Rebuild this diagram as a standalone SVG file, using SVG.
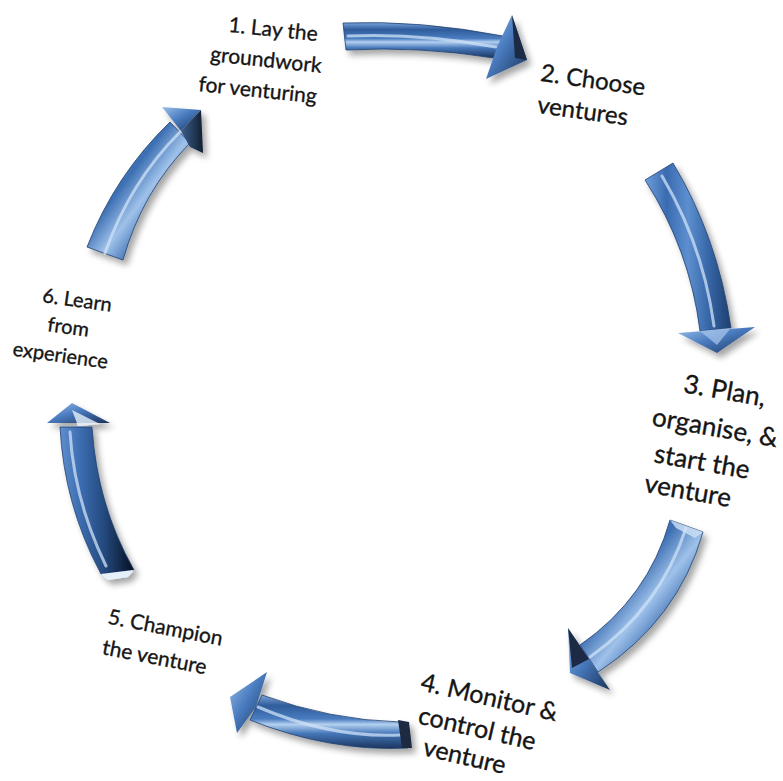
<svg xmlns="http://www.w3.org/2000/svg" width="783" height="781" viewBox="0 0 783 781">
<defs>
<filter id="sh" x="-30%" y="-30%" width="160%" height="160%"><feDropShadow dx="4" dy="5" stdDeviation="3" flood-color="#000" flood-opacity="0.35"/></filter>
<linearGradient id="gH" x1="0" y1="0" x2="0" y2="1"><stop offset="0" stop-color="#7aa6dc"/><stop offset="0.2" stop-color="#2f5c9c"/><stop offset="0.45" stop-color="#4a7dc0"/><stop offset="0.55" stop-color="#b4d0ef"/><stop offset="0.72" stop-color="#4577b9"/><stop offset="1" stop-color="#1b355e"/></linearGradient>
<linearGradient id="gV" x1="0" y1="0" x2="1" y2="0"><stop offset="0" stop-color="#6f9fda"/><stop offset="0.25" stop-color="#3a6bb0"/><stop offset="0.5" stop-color="#5d8fcf"/><stop offset="0.75" stop-color="#3565a6"/><stop offset="1" stop-color="#1f3f6e"/></linearGradient>
<linearGradient id="gV5" x1="0" y1="0" x2="1" y2="0"><stop offset="0" stop-color="#5f8fcf"/><stop offset="0.3" stop-color="#3a6aad"/><stop offset="0.6" stop-color="#24497e"/><stop offset="1" stop-color="#05101f"/></linearGradient>
<linearGradient id="gD" x1="0" y1="0" x2="1" y2="1"><stop offset="0" stop-color="#5f92d4"/><stop offset="0.4" stop-color="#3d6fb3"/><stop offset="0.55" stop-color="#9fc2ea"/><stop offset="0.7" stop-color="#3f70b2"/><stop offset="1" stop-color="#23487c"/></linearGradient>
<linearGradient id="gHead" x1="0" y1="0" x2="1" y2="1"><stop offset="0" stop-color="#9cc0ea"/><stop offset="0.45" stop-color="#4a7cc0"/><stop offset="1" stop-color="#1a3258"/></linearGradient>
<linearGradient id="gDark" x1="0" y1="0" x2="1" y2="0"><stop offset="0" stop-color="#3c5e8c"/><stop offset="1" stop-color="#121e30"/></linearGradient>
</defs>
<style>
.lbl{font-family:Lato,"Liberation Sans",sans-serif;fill:#151515;stroke:#151515;stroke-width:0.35;text-anchor:middle}
.hl{fill:none;stroke:#cfe2f7;stroke-width:3;stroke-opacity:0.75;stroke-linecap:round}
.edge{stroke:#20406e;stroke-width:0.8}
</style>

<g id="connectors">
  <g id="arrow1" filter="url(#sh)">
    <path class="edge" fill="url(#gH)" d="M343,23 Q420,20 503,36 L494,58 Q420,46 346,50 Z"/>
    <path class="hl" d="M348,36 Q420,33 496,47"/>
    <path fill="url(#gHead)" d="M512,15 L527,60 L486,79 L497,47 Z"/>
    <path fill="#1c2c44" d="M512,15 L527,60 L515,58 Z"/>
  </g>
  <g id="arrow2" filter="url(#sh)">
    <path class="edge" fill="url(#gV)" d="M645,180 L673,163 Q718,238 731,328 L700,331 Q690,250 645,180 Z"/>
    <path class="hl" d="M662,176 Q703,245 714,326" stroke-opacity="0.4"/>
    <path fill="url(#gHead)" d="M678,333 L755,327 L717,353 Z"/>
    <path fill="#a9c8ec" d="M700,331 L731,328 L717,345 Z" opacity="0.7"/>
  </g>
  <g id="arrow3" filter="url(#sh)">
    <path class="edge" fill="url(#gD)" d="M670,520 L703,532 Q678,620 598,672 L580,645 Q648,598 670,520 Z"/>
    <path class="hl" d="M686,528 Q660,608 590,657"/>
    <path fill="#cfe2f7" d="M670,520 L703,532 L695,538 L676,528 Z" opacity="0.8"/>
    <path fill="url(#gHead)" d="M568,628 L589,659 L610,690 L570,673 Z"/>
    <path fill="#1c2c44" d="M568,628 L589,659 L572,668 Z"/>
  </g>
  <g id="arrow4" filter="url(#sh)">
    <path class="edge" fill="url(#gH)" d="M400,722 Q330,720 262,695 L250,720 Q330,752 408,748 Z"/>
    <path class="hl" d="M400,735 Q330,738 258,707"/>
    <path fill="#1a2a42" d="M398,720 L409,722 L412,748 L402,748 Z"/>
    <path fill="url(#gHead)" d="M267,672 L256,707 L237,733 L230,697 Z"/>
  </g>
  <g id="arrow5" filter="url(#sh)">
    <path class="edge" fill="url(#gV5)" d="M60,427 L92,427 Q97,505 134,570 L101,574 Q64,505 60,427 Z"/>
    <path class="hl" d="M70,432 Q74,500 106,566" stroke-opacity="0.5"/>
    <path fill="#e6f0fb" d="M101,574 L134,570 L128,577 L108,580 Z"/>
    <path fill="url(#gHead)" d="M72,403 L110,423 L47,423 Z"/>
    <path fill="#e6f0fb" d="M72,410 L100,424 L78,426 Z" opacity="0.8"/>
  </g>
  <g id="arrow6" filter="url(#sh)">
    <path class="edge" fill="url(#gD)" d="M87,247 Q115,175 170,122 L190,143 Q142,192 123,260 Z"/>
    <path class="hl" d="M105,253 Q130,182 180,132"/>
    <path fill="url(#gHead)" d="M162,107 L201,110 L181,131 Z"/>
    <path fill="url(#gDark)" d="M181,131 L201,110 L203,153 L190,147 Z"/>
  </g>
</g>

<g id="node1"><text class="lbl" font-size="21" transform="rotate(6 266 60)"><tspan x="270" y="36">1. Lay the</tspan><tspan x="266" y="67">groundwork</tspan><tspan x="261" y="98">for venturing</tspan></text></g>
<g id="node2"><text class="lbl" font-size="24" transform="rotate(8 590 95)"><tspan x="591" y="88">2. Choose</tspan><tspan x="585" y="120">ventures</tspan></text></g>
<g id="node3"><text class="lbl" font-size="26" transform="rotate(10 712 440)"><tspan x="716" y="398">3. Plan,</tspan><tspan x="713" y="436">organise, &amp;</tspan><tspan x="706" y="472">start the</tspan><tspan x="697" y="503">venture</tspan></text></g>
<g id="node4"><text class="lbl" font-size="25" transform="rotate(13 478 725)"><tspan x="483" y="704">4. Monitor &amp;</tspan><tspan x="478" y="737">control the</tspan><tspan x="472" y="767">venture</tspan></text></g>
<g id="node5"><text class="lbl" font-size="21" transform="rotate(11 160 640)"><tspan x="163" y="634">5. Champion</tspan><tspan x="158" y="665">the venture</tspan></text></g>
<g id="node6"><text class="lbl" font-size="20" transform="rotate(8 68 330)"><tspan x="73" y="306">6. Learn</tspan><tspan x="68" y="334">from</tspan><tspan x="64" y="363">experience</tspan></text></g>
</svg>
